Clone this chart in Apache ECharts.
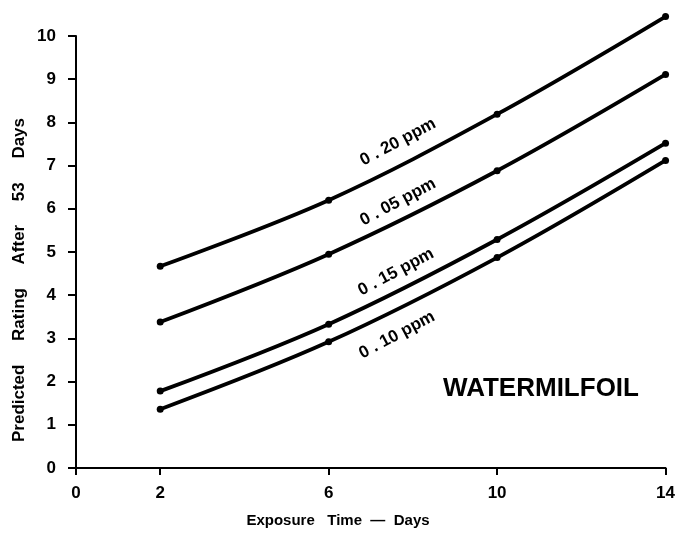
<!DOCTYPE html>
<html>
<head>
<meta charset="utf-8">
<script src="https://cdn.jsdelivr.net/npm/echarts@6/dist/echarts.min.js"></script>
<style>html,body{margin:0;padding:0;background:#fff;}#c{width:678px;height:533px;}</style>
</head>
<body>
<div id="c"></div>
<script>
const days = [2, 6, 10, 14];
const ppm020 = [4.67, 6.2, 8.19, 10.45];
const ppm005 = [3.38, 4.95, 6.88, 9.11];
const ppm015 = [1.78, 3.33, 5.29, 7.52];
const ppm010 = [1.36, 2.92, 4.87, 7.12];
const xTicks = [0, 2, 6, 10, 14];
const yTicks = [0, 1, 2, 3, 4, 5, 6, 7, 8, 9, 10];
const seriesNames = ['0 . 20 ppm', '0 . 05 ppm', '0 . 15 ppm', '0 . 10 ppm'];
const xTitle = 'Exposure   Time  —  Days';
const yTitle = 'Predicted     Rating     After     53     Days';
const panelTitle = 'WATERMILFOIL';

const FONT = '"Liberation Sans", Arial, sans-serif';
const chart = echarts.init(document.getElementById('c'));
function pts(vals){ return days.map((d,i)=>[d, vals[i]]); }
function mk(name, vals){
  return {
    name: name, type: 'line', data: pts(vals), smooth: 0.35, clip: false,
    symbol: 'circle', symbolSize: 7,
    lineStyle: {color: '#000', width: 3.8},
    itemStyle: {color: '#000'},
    animation: false
  };
}
const labelPos = [[398,142],[398,202],[396,272],[397,335]];
const rot = 28 * Math.PI / 180;
chart.setOption({
  animation: false,
  grid: {left: 76, right: 11, top: 36, bottom: 65},
  xAxis: {
    type: 'value', min: 0, max: 14,
    axisLine: {lineStyle: {color: '#000', width: 2}},
    axisTick: {show: true, length: 7, inside: false, customValues: xTicks, lineStyle: {color: '#000', width: 2}},
    axisLabel: {customValues: xTicks, fontFamily: FONT, fontWeight: 'bold', fontSize: 17, color: '#000', margin: 17},
    splitLine: {show: false}
  },
  yAxis: {
    type: 'value', min: 0, max: 10, interval: 1,
    axisLine: {show: true, lineStyle: {color: '#000', width: 2}},
    axisTick: {show: true, length: 8, lineStyle: {color: '#000', width: 2}},
    axisLabel: {customValues: yTicks, fontFamily: FONT, fontWeight: 'bold', fontSize: 17, color: '#000', margin: 20},
    splitLine: {show: false}
  },
  series: [mk(seriesNames[0], ppm020), mk(seriesNames[1], ppm005), mk(seriesNames[2], ppm015), mk(seriesNames[3], ppm010)],
  graphic: seriesNames.map((n,i)=>({
    type: 'text', x: labelPos[i][0], y: labelPos[i][1], rotation: rot,
    style: {text: n, font: 'bold 17px ' + FONT, fill: '#000', align: 'center', verticalAlign: 'middle'}
  })).concat([
    {type: 'text', x: 541, y: 389,
     style: {text: panelTitle, font: 'bold 26px ' + FONT, fill: '#000', align: 'center', verticalAlign: 'middle'}},
    {type: 'text', x: 338, y: 521,
     style: {text: xTitle, font: 'bold 15px ' + FONT, fill: '#000', align: 'center', verticalAlign: 'middle'}},
    {type: 'text', x: 19, y: 280, rotation: Math.PI/2,
     style: {text: yTitle, font: 'bold 17px ' + FONT, fill: '#000', align: 'center', verticalAlign: 'middle'}}
  ])
});
</script>
</body>
</html>
